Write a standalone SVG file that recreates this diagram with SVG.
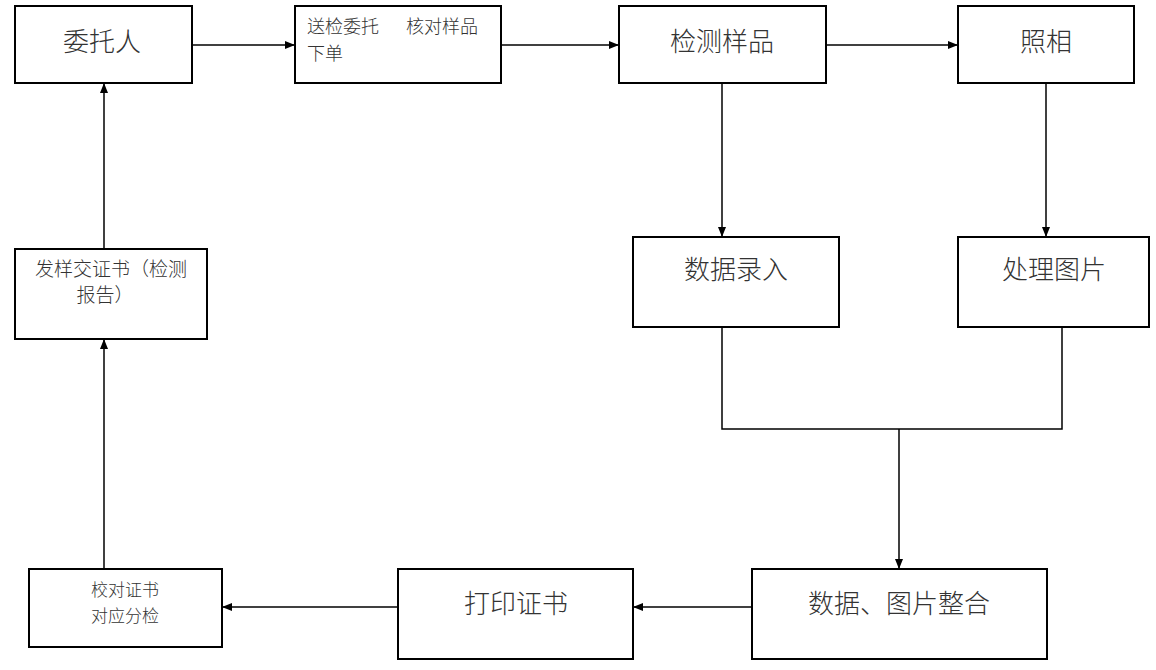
<svg xmlns="http://www.w3.org/2000/svg" width="1156" height="670" viewBox="0 0 1156 670">
<defs>
<marker id="ah" markerWidth="10" markerHeight="10" refX="10" refY="5" orient="auto" markerUnits="userSpaceOnUse">
<path d="M0,1 L10,5 L0,9 Z" fill="#000"/>
</marker>
<style>
rect{fill:#fff;stroke:#000;stroke-width:2}
text{font-family:"Noto Sans CJK SC","Liberation Sans",sans-serif;fill:#333;font-weight:300}
.big{font-size:26px;text-anchor:middle}
.sm{font-size:18px}
.smc{font-size:19px;text-anchor:middle}
.xs{font-size:17px;text-anchor:middle}
.c{fill:none;stroke:#000;stroke-width:1.5}
</style>
</defs>
<rect x="0" y="0" width="1156" height="670" style="fill:#fff;stroke:none"/>
<g id="connectors">
<line class="c" x1="192" y1="45" x2="295" y2="45" marker-end="url(#ah)"/>
<line class="c" x1="501" y1="45" x2="619" y2="45" marker-end="url(#ah)"/>
<line class="c" x1="826" y1="45" x2="958" y2="45" marker-end="url(#ah)"/>
<line class="c" x1="722" y1="83" x2="722" y2="237" marker-end="url(#ah)"/>
<line class="c" x1="1046" y1="83" x2="1046" y2="237" marker-end="url(#ah)"/>
<polyline class="c" points="722,327 722,429 1062,429 1062,327"/>
<line class="c" x1="899" y1="429" x2="899" y2="569" marker-end="url(#ah)"/>
<line class="c" x1="752" y1="607" x2="633" y2="607" marker-end="url(#ah)"/>
<line class="c" x1="398" y1="607" x2="222" y2="607" marker-end="url(#ah)"/>
<line class="c" x1="104" y1="569" x2="104" y2="339" marker-end="url(#ah)"/>
<line class="c" x1="104" y1="249" x2="104" y2="83" marker-end="url(#ah)"/>
</g>
<g id="n-weituoren"><rect x="15" y="6" width="177" height="77"/><text class="big" x="102" y="51">委托人</text></g>
<g id="n-songjian"><rect x="295" y="6" width="206" height="77"/><text class="sm" x="307" y="33">送检委托<tspan dx="27">核对样品</tspan></text><text class="sm" x="307" y="60">下单</text></g>
<g id="n-jiance"><rect x="619" y="6" width="207" height="77"/><text class="big" x="722" y="51">检测样品</text></g>
<g id="n-zhaoxiang"><rect x="958" y="6" width="176" height="77"/><text class="big" x="1046" y="51">照相</text></g>
<g id="n-shuju"><rect x="633" y="237" width="206" height="90"/><text class="big" x="736" y="279">数据录入</text></g>
<g id="n-chuli"><rect x="958" y="237" width="191" height="90"/><text class="big" x="1054" y="279">处理图片</text></g>
<g id="n-zhenghe"><rect x="752" y="569" width="295" height="90"/><text class="big" x="899" y="613">数据、图片整合</text></g>
<g id="n-dayin"><rect x="398" y="569" width="235" height="90"/><text class="big" x="516" y="613">打印证书</text></g>
<g id="n-jiaodui"><rect x="29" y="569" width="193" height="78"/><text class="xs" x="125" y="596">校对证书</text><text class="xs" x="125" y="622">对应分检</text></g>
<g id="n-fayang"><rect x="15" y="249" width="192" height="90"/><text class="smc" x="111" y="276">发样交证书（检测</text><text class="smc" x="105" y="302">报告）</text></g>
</svg>
